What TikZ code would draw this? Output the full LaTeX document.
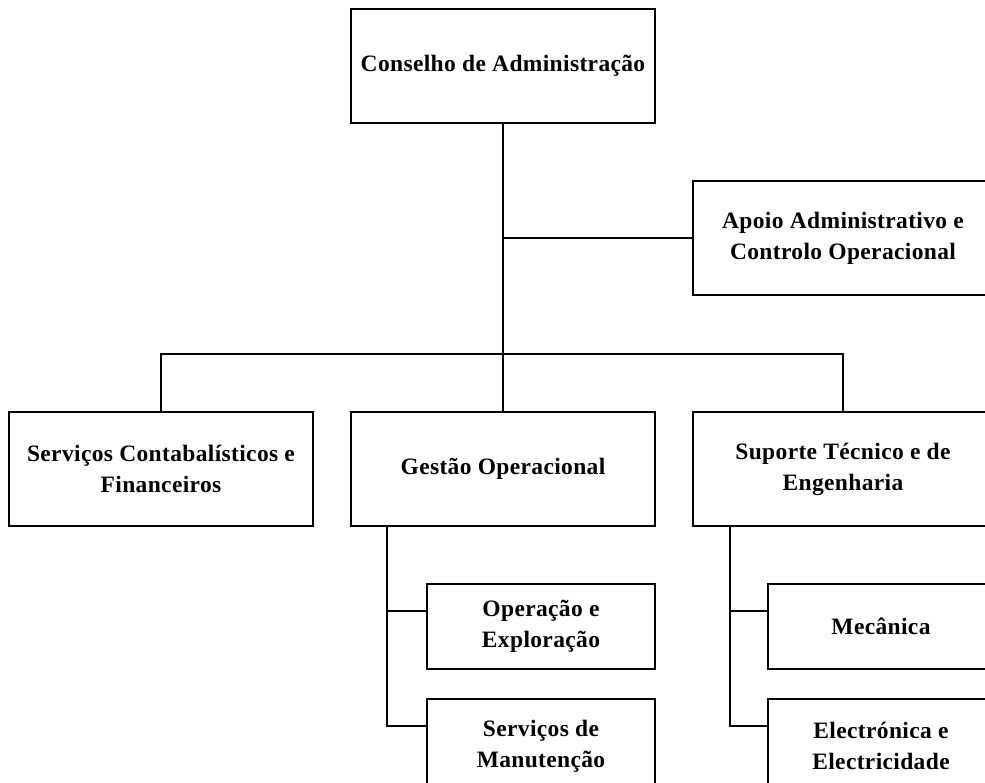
\documentclass[tikz,border=0pt]{standalone}
\usepackage{fontspec}
\setmainfont{Liberation Serif}[LetterSpace=1.5]
\begin{document}
\begin{tikzpicture}[x=1pt,y=-1pt,
  unit/.style={draw, line width=2.5pt, rectangle, align=center, inner sep=0pt,
    font=\bfseries\fontsize{23.5}{31}\selectfont, text=black},
  link/.style={line width=2.5pt, line cap=rect}]
\useasboundingbox (0,0) rectangle (985,782);
\clip (0,0) rectangle (985,782);

% top level
\node[unit, minimum width=304pt, minimum height=114pt] (cons) at (503,66) {Conselho de Administração};
\node[unit, minimum width=300pt, minimum height=114pt] (apoio) at (843,238) {Apoio Administrativo e\\Controlo Operacional};

% second level
\node[unit, minimum width=304pt, minimum height=114pt] (contab) at (161,469) {Serviços Contabalísticos e\\Financeiros};
\node[unit, minimum width=304pt, minimum height=114pt] (gest) at (503,469) {Gestão Operacional};
\node[unit, minimum width=300pt, minimum height=114pt] (sup) at (843,469) {Suporte Técnico e de\\Engenharia};

% third level
\node[unit, minimum width=228pt, minimum height=85pt] (oper) at (541,626.5) {Operação e\\Exploração};
\node[unit, minimum width=228pt, minimum height=94pt] (manut) at (541,746) {Serviços de\\Manutenção};
\node[unit, minimum width=226pt, minimum height=85pt] (mec) at (881,626.5) {Mecânica};
\node[unit, minimum width=226pt, minimum height=94pt] (elec) at (881,746) {Electrónica e\\Electricidade};

% junctions
\coordinate (j1) at (503,238);
\coordinate (bus) at (503,354);
\coordinate (gx) at ([xshift=37pt]gest.south west);
\coordinate (sx) at ([xshift=38pt]sup.south west);

% connectors
\draw[link] (cons.south) -- (gest.north);
\draw[link] (j1) -- (apoio.west);
\draw[link] (contab.north) |- (bus) -| (sup.north);
\draw[link] (gx) |- ([yshift=-28pt]oper.north west);
\draw[link] (gx) |- ([yshift=-28pt]manut.north west);
\draw[link] (sx) |- ([yshift=-28pt]mec.north west);
\draw[link] (sx) |- ([yshift=-28pt]elec.north west);
\end{tikzpicture}
\end{document}
